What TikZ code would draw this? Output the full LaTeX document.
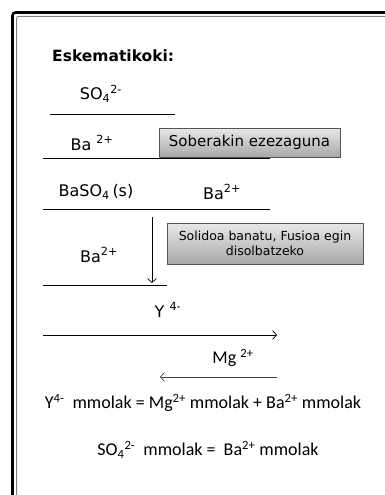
\documentclass[tikz,border=0pt]{standalone}
\usepackage{fontspec}
\setmainfont{DejaVu Sans}
\newfontfamily\eqfont{Carlito}
\usetikzlibrary{positioning,arrows.meta}
\usepackage{xcolor}
\definecolor{boxedge}{RGB}{85,85,85}
\definecolor{boxtop}{RGB}{232,232,232}
\definecolor{boxbottom}{RGB}{168,168,168}

\begin{document}
\begin{tikzpicture}[x=1pt, y=-1pt, >={Straight Barb[length=4pt,width=9pt]}]
    \tikzstyle{label} = [inner sep=0pt, font=\fontsize{16}{19}\selectfont]
    \tikzstyle{eqlabel} = [inner sep=0pt, font=\eqfont\fontsize{18}{21}\selectfont]
    \tikzstyle{greybox} = [rectangle, draw=boxedge, line width=0.8pt, top color=boxtop, bottom color=boxbottom, align=center, inner sep=0pt]
    \tikzstyle{rule} = [line width=0.9pt]
    \tikzstyle{flow} = [->, line width=0.7pt]

    \useasboundingbox (0,0) rectangle (385,495);
    \clip (0,0) rectangle (385,495);

    % Markoa
    \draw[line width=2.6pt, rounded corners=3pt] (12.5,520) -- (12.5,12.5) -- (420,12.5);
    \draw[gray, line width=1pt, rounded corners=2pt] (16.5,520) -- (16.5,16.5) -- (420,16.5);

    % Izenburua
    \node[label, font=\bfseries\fontsize{15.5}{18}\selectfont, anchor=west] (title) at (52,56) {Eskematikoki:};

    % Lehen zatia
    \node[label] (so4) at (101,94) {SO\textsubscript{4}\textsuperscript{2-}};
    \coordinate (r1a) at (50,114);
    \coordinate (r1b) at (175,114);
    \node[label] (ba1) at (92,143) {Ba \textsuperscript{2+}};
    \node[greybox, minimum width=181pt, minimum height=29pt, font=\fontsize{15}{17}\selectfont] (excess) at (249.5,142.5) {Soberakin ezezaguna};
    \coordinate (r2a) at (43,158);
    \coordinate (r2b) at (270,158);

    % Hauspeakina
    \node[label] (baso4) at (96,192) {BaSO\textsubscript{4}\,(s)};
    \node[label] (ba2) at (222,192) {Ba\textsuperscript{2+}};
    \coordinate (r3a) at (43,209);
    \coordinate (r3b) at (270,209);
    \coordinate (down1) at (152,217);
    \coordinate (down2) at (152,283);
    \node[greybox, minimum width=196pt, minimum height=41pt, font=\fontsize{12.5}{14.5}\selectfont] (fusion) at (265,243.5) {Solidoa banatu, Fusioa egin\\disolbatzeko};
    \node[label] (ba3) at (99,255) {Ba\textsuperscript{2+}};
    \coordinate (r4a) at (43,285);
    \coordinate (r4b) at (167,285);

    % Balorazioa
    \node[label] (y4) at (168,310) {Y \textsuperscript{4-}};
    \coordinate (fwd1) at (43,335);
    \coordinate (fwd2) at (277,335);
    \node[eqlabel] (mg) at (233,358) {Mg \textsuperscript{2+}};
    \coordinate (back1) at (277,377);
    \coordinate (back2) at (160,377);

    % Ekuazioak
    \node[eqlabel] (eq1) at (203,403) {Y\textsuperscript{4-}\ \ mmolak = Mg\textsuperscript{2+} mmolak + Ba\textsuperscript{2+} mmolak};
    \node[eqlabel] (eq2) at (208,450) {SO\textsubscript{4}\textsuperscript{2-}\ \ mmolak = \ Ba\textsuperscript{2+} mmolak};

    % Lerroak
    \draw[rule] (r1a) -- (r1b);
    \draw[rule] (r2a) -- (r2b);
    \draw[rule] (r3a) -- (r3b);
    \draw[rule] (r4a) -- (r4b);

    % Geziak
    \draw[flow] (down1) -- (down2);
    \draw[flow] (fwd1) -- (fwd2);
    \draw[flow, black!75] (back1) -- (back2);
\end{tikzpicture}
\end{document}
